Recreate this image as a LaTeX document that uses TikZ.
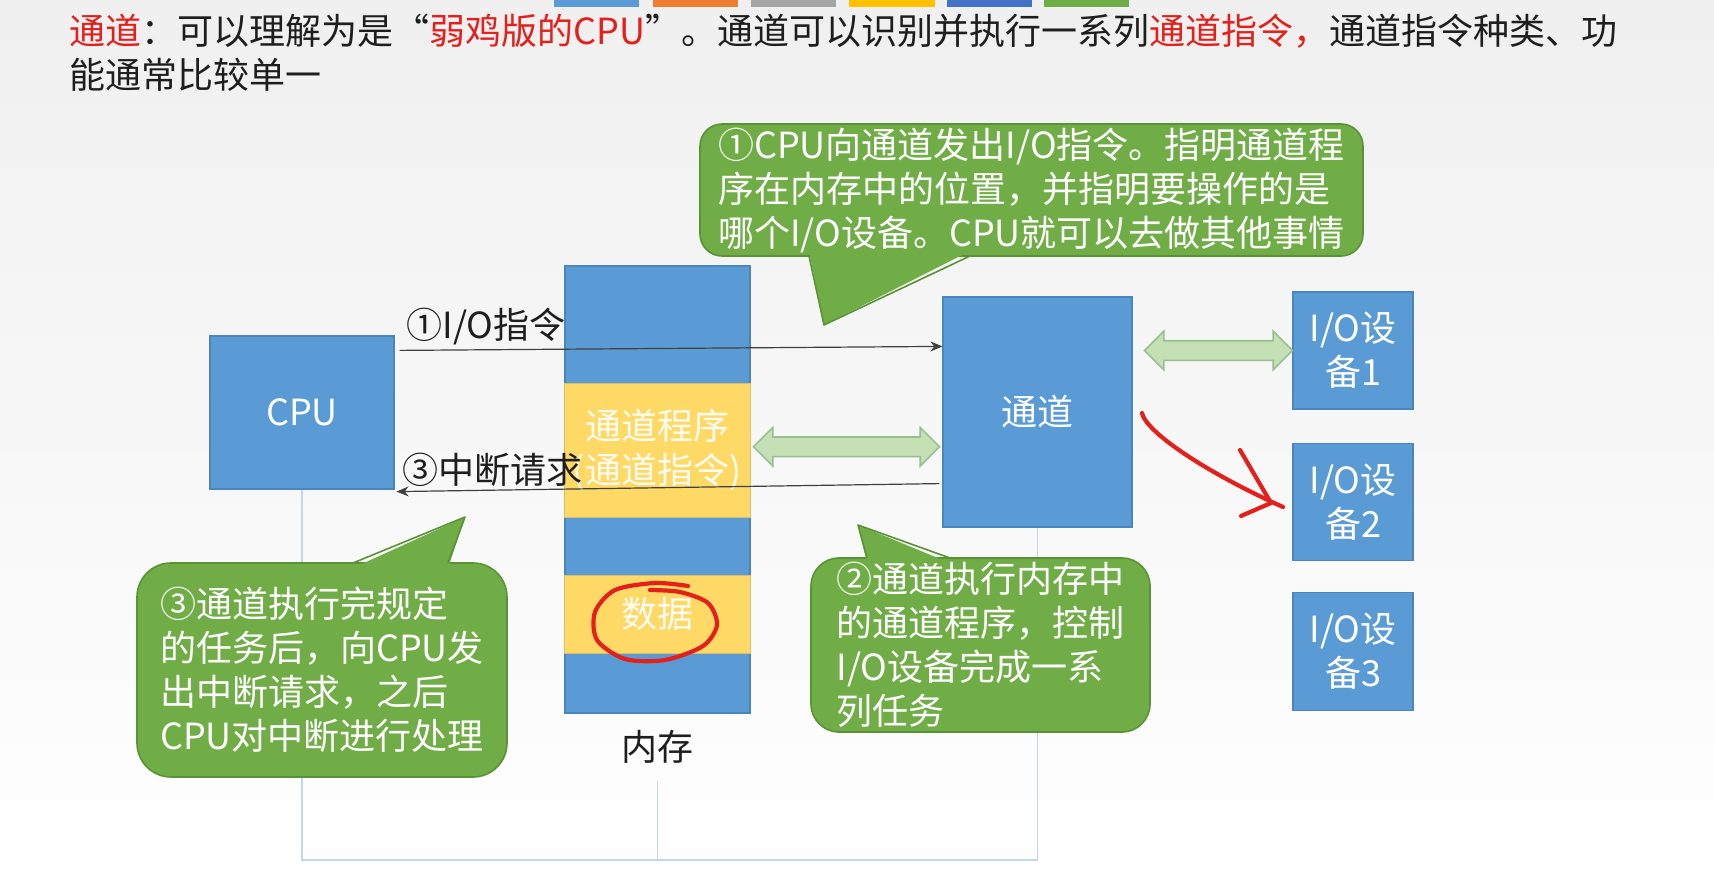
\documentclass[tikz,border=0pt]{standalone}
\usepackage{fontspec}
\setmainfont{Noto Sans CJK SC}
\usetikzlibrary{arrows.meta,positioning,calc,shapes.arrows}
\definecolor{ChBlue}{HTML}{5B9BD5}
\definecolor{ChBlueEdge}{HTML}{4A86BE}
\definecolor{ChYellow}{HTML}{FFD966}
\definecolor{ChGreen}{HTML}{70AD47}
\definecolor{ChGreenEdge}{HTML}{5B9137}
\definecolor{ChMint}{HTML}{C5E0B4}
\definecolor{ChMintEdge}{HTML}{98BF92}
\definecolor{ChRed}{HTML}{E3201B}
\definecolor{ChInk}{HTML}{1E1E1E}
\definecolor{ChBus}{HTML}{C2D6EC}
\definecolor{ChOrange}{HTML}{ED7D31}
\definecolor{ChGray}{HTML}{A5A5A5}
\definecolor{ChGold}{HTML}{FFC000}
\definecolor{ChNavy}{HTML}{4472C4}

\begin{document}
\begin{tikzpicture}[x=0.5pt,y=-0.5pt,font=\fontsize{18pt}{22pt}\selectfont,
  box/.style={draw=ChBlueEdge,line width=0.6pt,fill=ChBlue,text=white,align=center,inner sep=0pt},
  band/.style={draw=ChYellow!70!gray,line width=0.5pt,fill=ChYellow,text=white!92!ChYellow,align=center,inner sep=0pt,minimum width=93pt},
  bubble/.style={draw=ChGreenEdge,line width=0.8pt,fill=ChGreen,text=white,align=left,inner sep=0pt},
  bubbleedge/.style={draw=ChGreenEdge,line width=0.8pt,line join=round},
  flow/.style={double arrow,draw=ChMintEdge,line width=0.8pt,fill=ChMint,inner sep=4.5pt,double arrow head extend=4.75pt,double arrow tip angle=90},
  msg/.style={-{Stealth[length=6pt,width=5pt]},draw=ChInk!85,line width=0.6pt},
  busline/.style={draw=ChBus,line width=0.8pt},
  pen/.style={draw=ChRed,line width=2.1pt,line cap=round,line join=round}]
  \useasboundingbox (0,0) rectangle (1714,883);
  \shade[top color=black!6,bottom color=white] (0,0) rectangle (1714,883);
  % onglets du haut
  \fill[ChBlue] (554,0) rectangle (639,7);
  \fill[ChOrange] (653,0) rectangle (738,7);
  \fill[ChGray] (751,0) rectangle (836,7);
  \fill[ChGold] (849,0) rectangle (935,7);
  \fill[ChNavy] (947,0) rectangle (1032,7);
  \fill[ChGreen] (1044,0) rectangle (1129,7);
  \node[anchor=west,align=left,text=ChInk,inner sep=0pt] (title) at (69,53)
    {\textcolor{ChRed}{通道}：可以理解为是“\textcolor{ChRed}{弱鸡版的CPU}”。通道可以识别并执行一系列\textcolor{ChRed}{通道指令，}通道指令种类、功\\能通常比较单一};
  % blocs
  \node[box,minimum width=92pt,minimum height=76.5pt] (cpu) at (302,412.5) {CPU};
  \node[box,minimum width=92.5pt,minimum height=223.5pt] (mem) at (657.5,489.5) {};
  \node[band,minimum height=67pt] (prog) at (657,450) {通道程序\\(通道指令)};
  \node[band,minimum height=39pt] (data) at (657,614) {数据};
  \node[below=5pt of mem,text=ChInk] (memlbl) {内存};
  \node[box,minimum width=94.5pt,minimum height=115pt] (chan) at (1037.5,412) {通道};
  \node[box,minimum width=60pt,minimum height=58.5pt] (dev1) at (1353,350.5) {I/O设\\备1};
  \node[box,minimum width=60pt,minimum height=58.5pt,below=16.5pt of dev1] (dev2) {I/O设\\备2};
  \node[box,minimum width=60pt,minimum height=59pt,below=15.5pt of dev2] (dev3) {I/O设\\备3};
  % bus
  \coordinate (base) at (0,860);
  \draw[busline] (cpu.south) |- (chan.south |- base) -- (chan.south);
  \draw[busline] ($(memlbl.south)+(0,10)$) -- (memlbl.south |- base);
  % liaisons
  \node[flow,minimum height=93pt] (pc) at ($(mem.east)!0.5!(chan.west)+(0,-4)$) {};
  \node[flow,minimum height=74pt] (cd) at ($(chan.east |- dev1.west)!0.5!(dev1.west)+(6,0)$) {};
  \draw[msg] ($(cpu.north east)+(5,15)$) -- ($(chan.north west)+(0,50)$);
  \draw[msg] ($(chan.south west)+(-3,-44)$) -- ($(cpu.south east)+(2,2)$);
  \node[text=ChInk] (cmd) at (486,326) {①I/O指令};
  \node[text=ChInk] (irq) at (492,470) {③中断请求};
  % bulles
  \node[bubble,minimum width=331.5pt,minimum height=66pt,rounded corners=11pt] (note1) at (1031.5,190)
    {①CPU向通道发出I/O指令。指明通道程\\序在内存中的位置，并指明要操作的是\\哪个I/O设备。CPU就可以去做其他事情};
  \fill[ChGreen] (809,251) -- (824,325) -- (970,251) -- cycle;
  \draw[bubbleedge] (809,256) -- (824,325) -- (970,256);
  \node[bubble,minimum width=185pt,minimum height=107pt,rounded corners=17pt] (note3) at (322,670)
    {③通道执行完规定\\的任务后，向CPU发\\出中断请求，之后\\CPU对中断进行处理};
  \fill[ChGreen] (353,568) -- (465,517) -- (448,568) -- cycle;
  \draw[bubbleedge] (353,563) -- (465,517) -- (448,563);
  \node[bubble,minimum width=169.5pt,minimum height=87pt,rounded corners=14pt] (note2) at (980.5,645)
    {②通道执行内存中\\的通道程序，控制\\I/O设备完成一系\\列任务};
  \fill[ChGreen] (867,563) -- (858,525) -- (950,563) -- cycle;
  \draw[bubbleedge] (867,558) -- (858,525) -- (950,558);
  % annotations au stylo
  \draw[pen] plot[smooth] coordinates {(688,586) (655,583) (615,590) (595,612) (597,640) (625,659) (665,660) (703,646) (717,625) (708,603) (680,592) (650,590)};
  \draw[pen] (1142,413) .. controls (1146,432) and (1205,472) .. (1283,507);
  \draw[pen] (1240,450) -- (1271,503) -- (1241,516);
\end{tikzpicture}
\end{document}
